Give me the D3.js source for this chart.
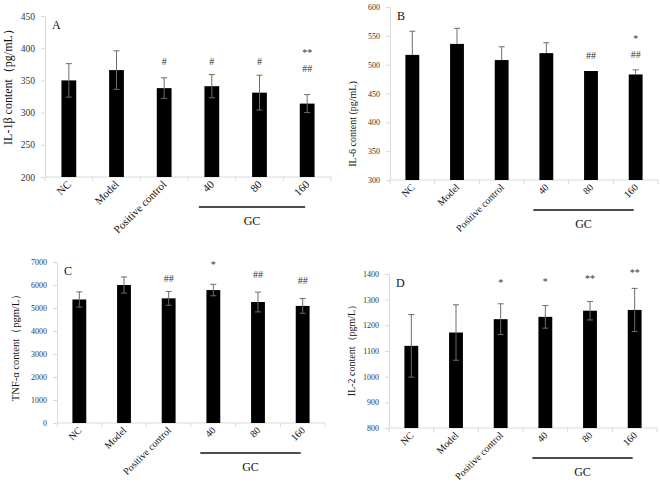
<!DOCTYPE html>
<html>
<head>
<meta charset="utf-8">
<script src="https://cdn.jsdelivr.net/npm/d3@7"></script>
<style>
  html, body { margin: 0; padding: 0; background: #fff; }
  svg { display: block; font-family: "Liberation Serif", "Times New Roman", serif; }
</style>
</head>
<body>
<svg id="chart" width="660" height="485"></svg>
<script>
// 组别
const groups = ['NC', 'Model', 'Positive control', '40', '80', '160'];

// A: IL-1β
const il1bMean = [350, 366, 338, 341, 331, 314];
const il1bErr = [26, 30, 16, 18, 27, 14];
const il1bMarks = ['', '', '#', '#', '#', '**|##'];
const il1bMarkAt = [0, 0, 379, 379, 379, 394];

// B: IL-6
const il6Mean = [517, 536, 508, 520, 489, 483];
const il6Err = [41, 27, 23, 18, 0, 8];
const il6Marks = ['', '', '', '', '##', '*|##'];
const il6MarkAt = [0, 0, 0, 0, 516, 546];

// C: TNF-α
const tnfMean = [5370, 6000, 5420, 5780, 5260, 5090];
const tnfErr = [330, 350, 300, 250, 430, 320];
const tnfMarks = ['', '', '##', '*', '##', '##'];
const tnfMarkAt = [0, 0, 6300, 6880, 6476, 6180];

// D: IL-2
const il2Mean = [1120, 1172, 1224, 1233, 1257, 1260];
const il2Err = [122, 108, 60, 44, 36, 84];
const il2Marks = ['', '', '*', '*', '**', '**'];
const il2MarkAt = [0, 0, 1365, 1369, 1384, 1406];

const svg = d3.select('#chart');

// 四个面板的布局
const panels = [
  { letter: 'A', mean: il1bMean, err: il1bErr, marks: il1bMarks, markAt: il1bMarkAt,
    domain: [200, 450], step: 50, x0: 45, x1: 331, y0: 177, y1: 16,
    ylabel: 'IL-1β content（pg/mL）', ylx: 8, ylc: 84, tickFs: 9.5, labFs: 12, xFs: 11, upOnly: false },
  { letter: 'B', mean: il6Mean, err: il6Err, marks: il6Marks, markAt: il6MarkAt,
    domain: [300, 600], step: 50, x0: 390, x1: 658, y0: 180, y1: 7,
    ylabel: 'IL-6 content (pg/mL)', ylx: 352, ylc: 124, tickFs: 8, labFs: 10, xFs: 10, upOnly: true },
  { letter: 'C', mean: tnfMean, err: tnfErr, marks: tnfMarks, markAt: tnfMarkAt,
    domain: [0, 7000], step: 1000, x0: 57, x1: 325, y0: 423, y1: 262,
    ylabel: 'TNF-α content（pgm/L）', ylx: 15, ylc: 345, tickFs: 8, labFs: 10.5, xFs: 10, upOnly: false },
  { letter: 'D', mean: il2Mean, err: il2Err, marks: il2Marks, markAt: il2MarkAt,
    domain: [800, 1400], step: 100, x0: 389, x1: 657, y0: 428, y1: 274,
    ylabel: 'IL-2 content（pgm/L）', ylx: 351, ylc: 348, tickFs: 8, labFs: 10, xFs: 10, upOnly: false },
];

panels.forEach(drawPanel);

function drawPanel(p) {
  const g = svg.append('g');

  const x = d3.scaleBand().domain(groups).range([p.x0, p.x1]).paddingInner(0).paddingOuter(0);
  const y = d3.scaleLinear().domain(p.domain).range([p.y0, p.y1]);
  const bw = x.bandwidth() * 0.31;

  // y 轴
  const yAxis = d3.axisLeft(y)
    .tickValues(d3.range(p.domain[0], p.domain[1] + 1, p.step))
    .tickSize(4).tickPadding(6).tickFormat(d3.format('d'));
  const ya = g.append('g').attr('transform', `translate(${p.x0},0)`).call(yAxis);
  ya.select('.domain').attr('stroke', '#d9d9d9');
  ya.selectAll('.tick line').attr('stroke', '#d9d9d9');
  ya.selectAll('.tick text').attr('font-size', p.tickFs).attr('fill', '#333')
    .attr('font-family', '"Liberation Serif", serif');

  // x 轴（Excel 风格，刻度在组间）
  g.append('line')
    .attr('x1', p.x0).attr('x2', p.x1)
    .attr('y1', p.y0).attr('y2', p.y0)
    .attr('stroke', '#d9d9d9');
  g.selectAll('.xtick')
    .data(groups.concat(['__end']))
    .join('line')
    .attr('x1', (d, i) => p.x0 + i * x.bandwidth())
    .attr('x2', (d, i) => p.x0 + i * x.bandwidth())
    .attr('y1', p.y0).attr('y2', p.y0 + 4)
    .attr('stroke', '#d9d9d9');

  // 柱
  g.selectAll('rect.bar')
    .data(groups)
    .join('rect')
    .attr('class', 'bar')
    .attr('x', d => x(d) + x.bandwidth() / 2 - bw / 2)
    .attr('width', bw)
    .attr('y', (d, i) => y(p.mean[i]))
    .attr('height', (d, i) => p.y0 - y(p.mean[i]))
    .attr('fill', '#000');

  // 误差线
  const eb = g.append('g').attr('stroke', '#6d6d6d').attr('stroke-width', 1);
  groups.forEach((d, i) => {
    if (!p.err[i]) return;
    const cx = x(d) + x.bandwidth() / 2;
    const lo = p.upOnly ? p.mean[i] : p.mean[i] - p.err[i];
    const hi = p.mean[i] + p.err[i];
    eb.append('line').attr('x1', cx).attr('x2', cx).attr('y1', y(lo)).attr('y2', y(hi));
    eb.append('line').attr('x1', cx - 3).attr('x2', cx + 3).attr('y1', y(hi)).attr('y2', y(hi));
    if (!p.upOnly) eb.append('line').attr('x1', cx - 3).attr('x2', cx + 3).attr('y1', y(lo)).attr('y2', y(lo));
  });

  // 显著性标记
  groups.forEach((d, i) => {
    if (!p.marks[i]) return;
    const cx = x(d) + x.bandwidth() / 2;
    const parts = p.marks[i].split('|');
    parts.forEach((t, k) => {
      g.append('text')
        .attr('x', cx)
        .attr('y', y(p.markAt[i]) + k * 16 + 3.5)
        .attr('text-anchor', 'middle')
        .attr('font-size', 10)
        .attr('fill', '#333')
        .text(t);
    });
  });

  // x 标签（-45°）
  groups.forEach(d => {
    const cx = x(d) + x.bandwidth() / 2 + 3;
    g.append('text')
      .attr('transform', `translate(${cx},${p.y0 + 8}) rotate(-45)`)
      .attr('text-anchor', 'end')
      .attr('font-size', p.xFs)
      .attr('fill', '#111')
      .text(d);
  });

  // GC 横线
  const gx0 = x('40') + x.bandwidth() / 2 - 13;
  const gx1 = x('160') + x.bandwidth() / 2 - 2;
  g.append('line')
    .attr('x1', gx0).attr('x2', gx1)
    .attr('y1', p.y0 + 30).attr('y2', p.y0 + 30)
    .attr('stroke', '#111').attr('stroke-width', 1.5);
  g.append('text')
    .attr('x', (gx0 + gx1) / 2)
    .attr('y', p.y0 + 48)
    .attr('text-anchor', 'middle')
    .attr('font-size', 12)
    .attr('fill', '#111')
    .text('GC');

  // y 轴标题
  g.append('text')
    .attr('transform', `translate(${p.ylx},${p.ylc}) rotate(-90)`)
    .attr('text-anchor', 'middle')
    .attr('dy', '0.35em')
    .attr('font-size', p.labFs)
    .attr('fill', '#111')
    .text(p.ylabel);

  // 面板字母
  g.append('text')
    .attr('x', p.x0 + 7)
    .attr('y', p.y1 + 13)
    .attr('font-size', 12)
    .attr('fill', '#111')
    .text(p.letter);
}
</script>
</body>
</html>
